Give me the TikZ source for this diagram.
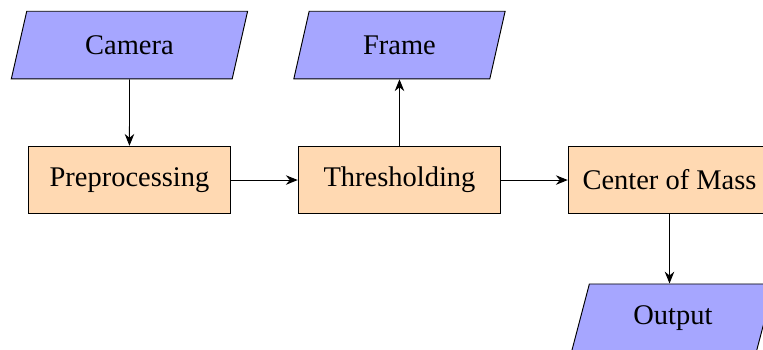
\documentclass[tikz,border=0pt,12pt]{standalone}
\usepackage{fontspec}
\setmainfont{Liberation Serif}
\usetikzlibrary{arrows.meta, shapes.geometric}

\begin{document}
\begin{tikzpicture}[
    >={Stealth[length=5pt,width=4pt]},
    io/.style={draw, trapezium, trapezium left angle=68, trapezium right angle=112,
      trapezium stretches body=true, fill=blue!35, minimum width=3.13cm, minimum height=1cm},
    stage/.style={draw, fill=orange!30, minimum width=3cm, minimum height=1cm}]
  \useasboundingbox (-1.918,-2.504) rectangle (9.385,2.667);

  \node[stage] (prep) at (0,0) {Preprocessing};
  \node[stage] (thresh) at (4,0) {Thresholding};
  \node[stage] (com) at (8,0) {Center of Mass};

  \node[io, minimum width=3.5cm] (camera) at (0,2) {Camera};
  \node[io] (frame) at (4,2) {Frame};
  \node[io, minimum width=3cm] (output) at (8.05,-2.04) {Output};

  \draw[->] (camera) -- (prep);
  \draw[->] (prep) -- (thresh);
  \draw[->] (thresh) -- (frame);
  \draw[->] (thresh) -- (com);
  \draw[->] (com) -- (com |- output.north);
\end{tikzpicture}
\end{document}
